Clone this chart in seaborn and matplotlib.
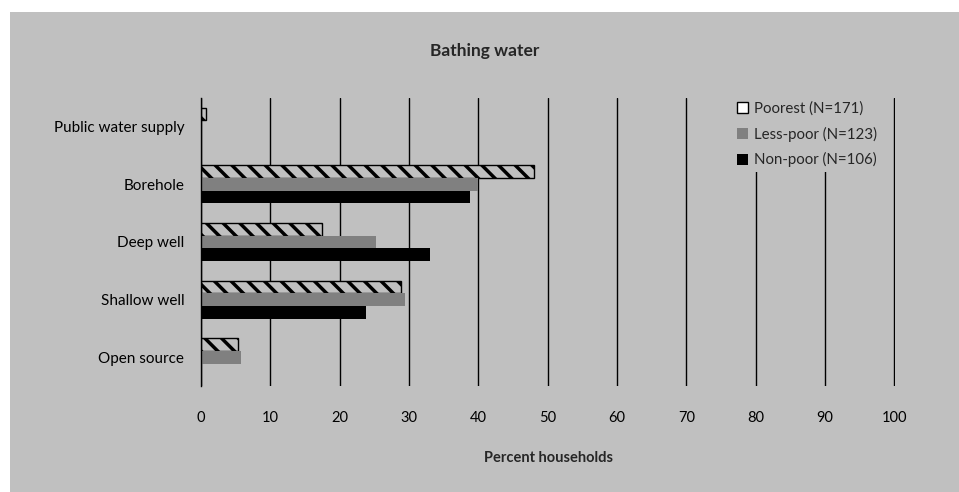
import matplotlib
matplotlib.use("Agg")
import matplotlib.pyplot as plt
from matplotlib.patches import Rectangle
import seaborn as sns
import pandas as pd

# values (percent of households)
sources = ["Public water supply", "Borehole", "Deep well", "Shallow well", "Open source"]
groups = ["Poorest (N=171)", "Less-poor (N=123)", "Non-poor (N=106)"]
poorest = [0.7, 48.1, 17.5, 28.9, 5.4]
less_poor = [0.0, 39.9, 25.2, 29.4, 5.8]
non_poor = [0.0, 38.8, 33.1, 23.8, 0.0]

bg = "#c0c0c0"
colors = [bg, "#808080", "#000000"]

df = pd.DataFrame({
    "source": sources * 3,
    "group": [g for g in groups for _ in sources],
    "pct": poorest + less_poor + non_poor,
})

sns.set_theme(style="white")
plt.rcParams["font.family"] = ["Lato", "DejaVu Sans"]
plt.rcParams["hatch.linewidth"] = 2.5

fig = plt.figure(figsize=(9.59, 4.92), dpi=100, facecolor="white")
fig.patches.append(Rectangle((10 / 959, 0), 1, 1 - 12 / 492, transform=fig.transFigure,
                             facecolor=bg, edgecolor="none", zorder=-10))
ax = fig.add_axes([201 / 959, 1 - 386 / 492, 694 / 959, 288 / 492])
ax.set_facecolor("none")

sns.barplot(data=df, x="pct", y="source", hue="group", order=sources, hue_order=groups,
            palette=colors, orient="h", width=0.66, ax=ax, saturation=1, legend=True)

# poorest bars: hatched with black outline
for bar in ax.containers[0]:
    bar.set_hatch("\\\\")
    bar.set_edgecolor("black")
    bar.set_linewidth(1.0)
for cont in ax.containers[1:]:
    for bar in cont:
        bar.set_linewidth(0)

ax.set_xlim(0, 100.1)
ax.set_xticks(range(0, 101, 10))
ax.grid(axis="x", color="black", linewidth=1.0)
ax.set_axisbelow(True)
for s in ["top", "right", "bottom"]:
    ax.spines[s].set_visible(False)
ax.spines["left"].set_color("black")
ax.spines["left"].set_linewidth(1.0)
ax.tick_params(axis="x", length=0, pad=18, labelsize=10.5, colors="black")
ax.tick_params(axis="y", length=0, pad=12, labelsize=11, colors="black")
ax.set_ylabel("")
ax.set_xlabel("Percent households", fontsize=10.5, fontweight="bold", labelpad=19)

handles, labels = ax.get_legend_handles_labels()
leg = ax.legend(handles, labels, loc="upper left", bbox_to_anchor=(0.755, 1.03),
                frameon=True, facecolor=bg, edgecolor="none", framealpha=1,
                fontsize=10.8, handlelength=0.75, handleheight=0.75, handletextpad=0.4,
                labelspacing=0.72, borderpad=0.3)
for h in leg.legend_handles:
    h.set_linewidth(0)
leg.legend_handles[0].set_facecolor("white")
leg.legend_handles[0].set_edgecolor("black")
leg.legend_handles[0].set_linewidth(1.0)
leg.legend_handles[0].set_hatch("")

fig.text(0.505, 1 - 51 / 492, "Bathing water", ha="center", va="center",
         fontsize=12.5, fontweight="bold")

fig.savefig("out.png", dpi=100)
